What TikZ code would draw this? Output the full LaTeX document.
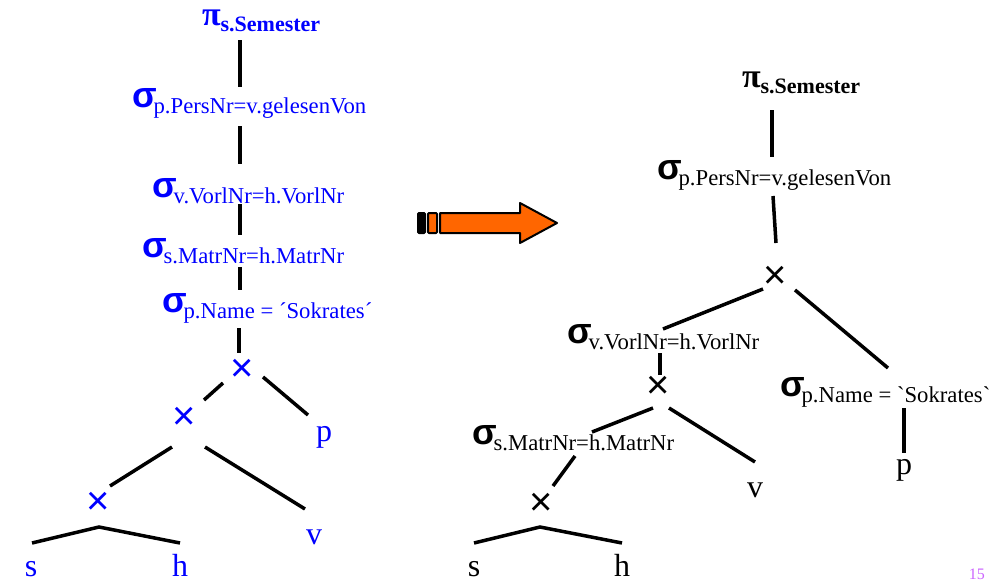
\documentclass[tikz,border=0pt]{standalone}
\usepackage{fontspec}
\setmainfont{Liberation Serif}[Ligatures=TeXOff]
\newfontfamily\crossfont{Liberation Sans}
\definecolor{lblue}{RGB}{0,0,255}
\definecolor{arroworange}{RGB}{255,102,0}
\definecolor{pagenum}{RGB}{204,102,255}
\newcommand\sellab[1]{{\crossfont\fontsize{36}{36}\selectfont\bfseries σ}\kern-3pt\raisebox{-6pt}{\fontsize{22.7}{22.7}\selectfont #1}}
\newcommand\projlab[1]{{\fontsize{34}{34}\selectfont\bfseries π}\raisebox{-6pt}{\fontsize{22}{22}\selectfont\bfseries #1}}
\begin{document}
\begin{tikzpicture}[x=1pt,y=-1pt,
  lab/.style={anchor=base west,inner sep=0pt,outer sep=0pt},
  leaf/.style={anchor=base,inner sep=0pt,outer sep=0pt,font=\fontsize{32}{32}\selectfont},
  crossnode/.style={inner sep=0pt,outer sep=0pt,font=\crossfont\fontsize{40}{40}\selectfont},
  edge/.style={line width=3.5pt},
  arrowpart/.style={line width=2pt,line join=round}]
\useasboundingbox (0,0) rectangle (996,581);

% ---------- left tree ----------
\node[lab,text=lblue] (pi1) at (202,25) {\projlab{s.Semester}};
\node[lab,text=lblue] (s1) at (132,107) {\sellab{p.PersNr=v.gelesenVon}};
\node[lab,text=lblue] (s2) at (152,197) {\sellab{v.VorlNr=h.VorlNr}};
\node[lab,text=lblue] (s3) at (142,257) {\sellab{s.MatrNr=h.MatrNr}};
\node[lab,text=lblue] (s4) at (162,312) {\sellab{p.Name = ´Sokrates´}};
\node[crossnode,text=lblue] (X1) at (242,370) {×};
\node[crossnode,text=lblue] (X2) at (184,418) {×};
\node[crossnode,text=lblue] (X3) at (98,503) {×};
\node[leaf,text=lblue] (P1) at (324,441) {p};
\node[leaf,text=lblue] (V1) at (314,544) {v};
\node[leaf,text=lblue] (S1) at (31,576) {s};
\node[leaf,text=lblue] (H1) at (180,576) {h};

\draw[edge] ([shift={(38,15)}]pi1.base west) -- ([shift={(108,-20)}]s1.base west);
\draw[edge] ([shift={(108,19)}]s1.base west) -- ([shift={(88,-33)}]s2.base west);
\draw[edge] ([shift={(88,7)}]s2.base west) -- ([shift={(98,-22)}]s3.base west);
\draw[edge] ([shift={(98,10)}]s3.base west) -- ([shift={(78,-22)}]s4.base west);
\draw[edge] ([shift={(77,16)}]s4.base west) -- ([shift={(-3,-17)}]X1.center);
\draw[edge] ([shift={(21,7)}]X1.center) -- ([shift={(-16,-26)}]P1.base);
\draw[edge] ([shift={(-19,13)}]X1.center) -- ([shift={(20,-18)}]X2.center);
\draw[edge] ([shift={(-12,29)}]X2.center) -- ([shift={(12,-17)}]X3.center);
\draw[edge] ([shift={(21,29)}]X2.center) -- ([shift={(-9,-35)}]V1.base);
\draw[edge] ([shift={(1,-33)}]S1.base) -- ([shift={(1,24)}]X3.center) -- ([shift={(0,-33)}]H1.base);

% ---------- arrow ----------
\draw[arrowpart,fill=arroworange] (440,213) -- (520,213) -- (520,203) -- (557,223) -- (520,243) -- (520,233) -- (440,233) -- cycle;
\draw[arrowpart,fill=arroworange,rounded corners=1pt] (428,213) rectangle (437,233);
\draw[arrowpart,fill=black,rounded corners=1pt] (418,213) rectangle (425,233);

% ---------- right tree ----------
\node[lab] (pi2) at (742,87) {\projlab{s.Semester}};
\node[lab] (t1) at (657,179) {\sellab{p.PersNr=v.gelesenVon}};
\node[lab] (t2) at (567,343) {\sellab{v.VorlNr=h.VorlNr}};
\node[lab] (t3) at (472,444) {\sellab{s.MatrNr=h.MatrNr}};
\node[lab] (t4) at (780,396) {\sellab{p.Name = `Sokrates`}};
\node[crossnode] (R1) at (775,277) {×};
\node[crossnode] (R2) at (658,387) {×};
\node[crossnode] (R3) at (541,504) {×};
\node[leaf] (S2) at (474,576) {s};
\node[leaf] (H2) at (622,576) {h};
\node[leaf] (V2) at (755,497) {v};
\node[leaf] (P2) at (904,474) {p};

\draw[edge] ([shift={(30,23)}]pi2.base west) -- ([shift={(115,-22)}]t1.base west);
\draw[edge] ([shift={(116,17)}]t1.base west) -- ([shift={(1,-34)}]R1.center);
\draw[edge] ([shift={(-12,12)}]R1.center) -- ([shift={(96,-14)}]t2.base west);
\draw[edge] ([shift={(20,13)}]R1.center) -- ([shift={(108,-28)}]t4.base west);
\draw[edge] ([shift={(93,10)}]t2.base west) -- ([shift={(2,-12)}]R2.center);
\draw[edge] ([shift={(-5,21)}]R2.center) -- ([shift={(120,-12)}]t3.base west);
\draw[edge] ([shift={(11,21)}]R2.center) -- ([shift={(0,-35)}]V2.base);
\draw[edge] ([shift={(103,12)}]t3.base west) -- ([shift={(12,-18)}]R3.center);
\draw[edge] ([shift={(0,-33)}]S2.base) -- ([shift={(-1,23)}]R3.center) -- ([shift={(0,-33)}]H2.base);
\draw[edge] ([shift={(124,12)}]t4.base west) -- ([shift={(0,-21)}]P2.base);

\node[anchor=base east,inner sep=0pt,text=pagenum,font=\fontsize{16}{16}\selectfont] (pg) at (985,579) {15};
\end{tikzpicture}
\end{document}
